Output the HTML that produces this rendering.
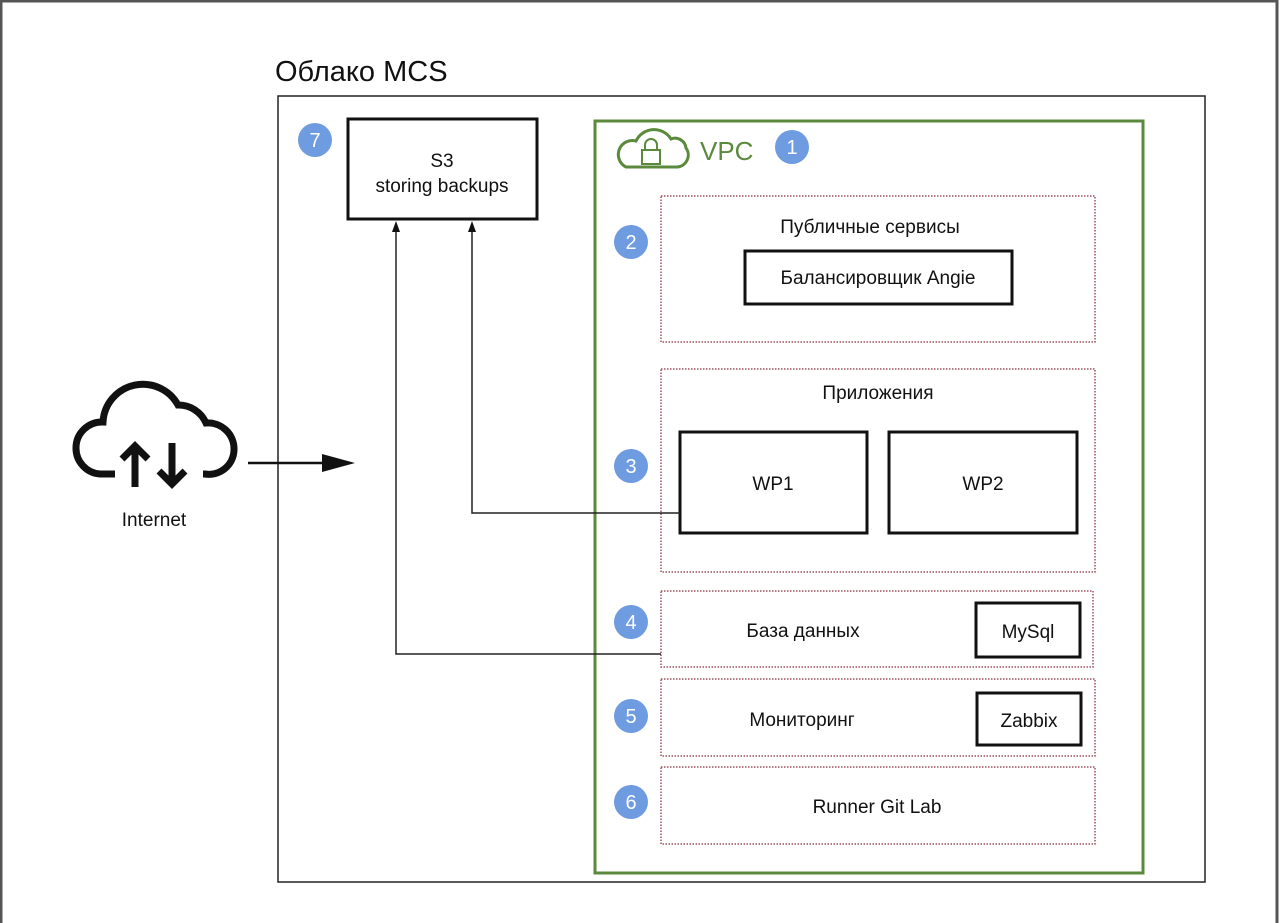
<!DOCTYPE html>
<html><head><meta charset="utf-8"><style>
html,body{margin:0;padding:0;background:#fff;}
svg{display:block;}
text{font-family:"Liberation Sans","DejaVu Sans",sans-serif;fill:#111;}
</style></head><body>
<svg width="1280" height="923" viewBox="0 0 1280 923" xmlns="http://www.w3.org/2000/svg">
<rect x="0" y="0" width="1280" height="923" fill="#fff"/>
<rect x="1" y="1" width="1276" height="940" fill="none" stroke="#555" stroke-width="3"/>
<text x="275" y="81" font-size="29">Облако MCS</text>
<rect x="278" y="96" width="927" height="786" fill="none" stroke="#222" stroke-width="1.5"/>
<!-- VPC -->
<rect x="595" y="121" width="548" height="752" fill="none" stroke="#5b8a3c" stroke-width="3"/>
<g fill="none" stroke="#5b8a3c" stroke-width="3">
<path d="M626 167 H677 A12 12 0 0 0 686 148 A11 11 0 0 0 671 139 A20 20 0 0 0 636 141 A14 14 0 0 0 626 167 Z" fill="#fff"/>
<rect x="642" y="150" width="18" height="14" stroke-width="2"/>
<path d="M645 150 V145 A6 6 0 0 1 657 145 V150" stroke-width="2"/>
</g>
<text x="700" y="160" font-size="26" style="fill:#5b8a3c">VPC</text>
<g fill="#6f9be0">
<circle cx="792" cy="147" r="17"/><circle cx="631" cy="242" r="17"/><circle cx="631" cy="466" r="17"/>
<circle cx="631" cy="622" r="17"/><circle cx="631" cy="716" r="17"/><circle cx="631" cy="802" r="17"/>
<circle cx="315" cy="140" r="17"/>
</g>
<g font-size="20" text-anchor="middle">
<text x="792" y="154" style="fill:#fff">1</text><text x="631" y="249" style="fill:#fff">2</text>
<text x="631" y="473" style="fill:#fff">3</text><text x="631" y="629" style="fill:#fff">4</text>
<text x="631" y="723" style="fill:#fff">5</text><text x="631" y="809" style="fill:#fff">6</text>
<text x="315" y="147" style="fill:#fff">7</text>
</g>
<rect x="348" y="119" width="189" height="100" fill="#fff" stroke="#111" stroke-width="3"/>
<text x="442" y="167" font-size="19" text-anchor="middle">S3</text>
<text x="442" y="192" font-size="19" text-anchor="middle">storing backups</text>
<g fill="none" stroke="#a05060" stroke-width="1.5" stroke-dasharray="1.5 1.5">
<rect x="661" y="196" width="434" height="146"/>
<rect x="661" y="369" width="434" height="203"/>
<rect x="661" y="591" width="432" height="76"/>
<rect x="661" y="679" width="434" height="77"/>
<rect x="661" y="767" width="434" height="77"/>
</g>
<text x="870" y="233" font-size="19" text-anchor="middle">Публичные сервисы</text>
<rect x="745" y="251" width="267" height="53" fill="none" stroke="#111" stroke-width="3"/>
<text x="878" y="284" font-size="19" text-anchor="middle">Балансировщик Angie</text>
<text x="878" y="399" font-size="19" text-anchor="middle">Приложения</text>
<rect x="680" y="432" width="187" height="101" fill="#fff" stroke="#111" stroke-width="3"/>
<rect x="889" y="432" width="188" height="101" fill="#fff" stroke="#111" stroke-width="3"/>
<text x="773" y="490" font-size="19" text-anchor="middle">WP1</text>
<text x="983" y="490" font-size="19" text-anchor="middle">WP2</text>
<text x="803" y="637" font-size="19" text-anchor="middle">База данных</text>
<rect x="976" y="603" width="104" height="54" fill="none" stroke="#111" stroke-width="3"/>
<text x="1028" y="638" font-size="19" text-anchor="middle">MySql</text>
<text x="802" y="726" font-size="19" text-anchor="middle">Мониторинг</text>
<rect x="977" y="693" width="104" height="52" fill="none" stroke="#111" stroke-width="3"/>
<text x="1029" y="727" font-size="19" text-anchor="middle">Zabbix</text>
<text x="877" y="813" font-size="19" text-anchor="middle">Runner Git Lab</text>
<g fill="none" stroke="#222" stroke-width="1.5">
<path d="M661 654 H396 V228"/>
<path d="M680 513 H472 V228"/>
</g>
<path d="M396 221 L392 232 L400 232 Z" fill="#111"/>
<path d="M472 221 L468 232 L476 232 Z" fill="#111"/>
<!-- internet cloud -->
<g fill="none" stroke="#111" stroke-width="7" stroke-linecap="butt">
<path d="M115 474 H100 A26 26 0 0 1 76 448 A26 26 0 0 1 103 422 A40 40 0 0 1 178 405 A30 30 0 0 1 206 423 A26 26 0 0 1 234 450 A25 25 0 0 1 205 474 H203"/>
<path d="M135 487 V447 M122 459 L135 446 L148 459"/>
<path d="M172 443 V483 M159 471 L172 484 L185 471"/>
</g>
<text x="154" y="526" font-size="19" text-anchor="middle">Internet</text>
<path d="M248 463 H325" stroke="#111" stroke-width="2.5"/>
<path d="M355 463 L322 454 L322 472 Z" fill="#111"/>
</svg>
</body></html>
